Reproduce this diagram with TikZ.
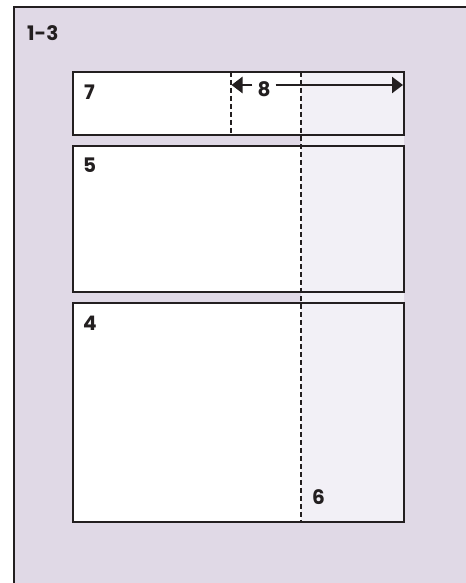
\documentclass[tikz,border=0pt]{standalone}
\usepackage{fontspec}
\setmainfont{Poppins}
\usetikzlibrary{arrows.meta}
\definecolor{lav}{HTML}{E0D9E6}
\definecolor{pale}{HTML}{F2F0F6}
\definecolor{ink}{HTML}{231F20}
\tikzset{
  panel/.style={draw=ink, line width=2.6bp, fill=white, inner sep=0pt, outer sep=0pt, minimum width=331bp},
  lbl/.style={anchor=base west, inner sep=0pt, text=ink, font=\bfseries\fontsize{20bp}{24bp}\selectfont},
  guide/.style={draw=ink, line width=1.1bp, dash pattern=on 5bp off 3bp},
  dim/.style={draw=ink, line width=2.5bp},
  tip/.style={-{Triangle[length=11bp,width=16bp]}}
}
\begin{document}
\begin{tikzpicture}[x=1bp,y=-1bp]
\useasboundingbox (0,0) rectangle (466,583);
% background frame
\fill[lav] (14,7) rectangle (466,583);
\draw[ink, line width=2.5bp] (14,583) -- (14,7) -- (466,7);
% panels (fill)
\node[panel, minimum height=63bp] (b7) at (238.5,103.5) {};
\node[panel, minimum height=146bp] (b5) at (238.5,219) {};
\node[panel, minimum height=219bp] (b4) at (238.5,412.5) {};
% pale margin column
\fill[pale] (301,72) rectangle (404,522);
% redraw panel borders
\foreach \b in {b7,b5,b4}{
  \draw[ink, line width=2.6bp] (\b.north west) rectangle (\b.south east);
}
% guides
\coordinate (g1) at (301,72);
\coordinate (g2) at (301,522);
\coordinate (g3) at (231,72);
\coordinate (g4) at (231,135);
\draw[guide] (g1) -- (g2);
\draw[guide] (g3) -- (g4);
% labels
\node[lbl] (t13) at (27,41) {1-3};
\node[lbl] (t7) at (84,100) {7};
\node[lbl] (t5) at (83,173) {5};
\node[lbl] (t4) at (83,330) {4};
\node[lbl] (t6) at (312,504) {6};
% dimension arrow
\node[lbl, anchor=base, inner xsep=5bp] (t8) at (264,97) {8};
\coordinate (a1) at (231.5,85);
\coordinate (a2) at (403,85);
\draw[dim, tip] (t8.west |- a1) -- (a1);
\draw[dim, tip] (t8.east |- a2) -- (a2);
\end{tikzpicture}
\end{document}
